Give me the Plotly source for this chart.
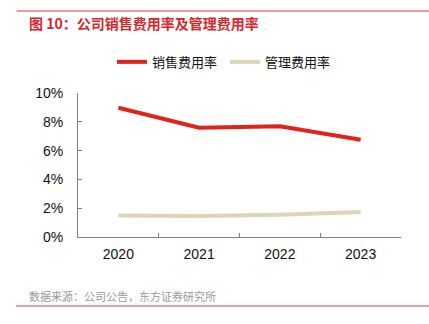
import plotly.graph_objects as go

years = ["2020", "2021", "2022", "2023"]
sales_rate = [0.0898, 0.0759, 0.0769, 0.0676]
admin_rate = [0.0150, 0.0146, 0.0155, 0.0174]
series_names = ["销售费用率", "管理费用率"]
title_text = "图 10：公司销售费用率及管理费用率"
source_text = "数据来源：公司公告，东方证券研究所"

RED = "#E2231A"
BEIGE = "#DED4B9"
AXIS = "#808080"
FONT = "Liberation Sans, Arial, Noto Sans CJK SC, sans-serif"

fig = go.Figure()
fig.add_trace(go.Scatter(x=years, y=sales_rate, name=series_names[0], mode="lines",
                         line=dict(color=RED, width=4)))
fig.add_trace(go.Scatter(x=years, y=admin_rate, name=series_names[1], mode="lines",
                         line=dict(color=BEIGE, width=4)))

fig.update_layout(
    width=429, height=324,
    margin=dict(l=78, r=28, t=93, b=87),
    plot_bgcolor="white", paper_bgcolor="white",
    font=dict(family=FONT, size=13, color="#111111"),
    showlegend=True,
    legend=dict(orientation="h", x=0.105, y=1.32, xanchor="left", yanchor="top",
                font=dict(size=13, color="#111111"),
                entrywidth=68, entrywidthmode="pixels",
                itemwidth=30, bgcolor="rgba(0,0,0,0)"),
    xaxis=dict(type="category", range=[-0.5, 3.5], showline=True, linecolor=AXIS, linewidth=1,
               ticks="inside", tickson="boundaries", ticklen=4, tickcolor=AXIS,
               ticklabelstandoff=4,
               showgrid=False, zeroline=False, tickfont=dict(size=14, color="#111111")),
    yaxis=dict(range=[0, 0.10], dtick=0.02, tickformat=".0%", showline=True, linecolor=AXIS,
               linewidth=1, ticks="inside", ticklen=4, tickcolor=AXIS, showgrid=False,
               ticklabelstandoff=11,
               zeroline=False, tickfont=dict(size=14, color="#111111")),
    shapes=[
        dict(type="line", xref="paper", yref="paper", x0=-0.19, x1=1.09,
             y0=(324 - 87 - 11) / 144, y1=(324 - 87 - 11) / 144,
             line=dict(color="#E03A3A", width=1)),
        dict(type="line", xref="paper", yref="paper", x0=-0.192, x1=1.09,
             y0=(324 - 87 - 306) / 144, y1=(324 - 87 - 306) / 144,
             line=dict(color="#E03A3A", width=1)),
    ],
    annotations=[
        dict(text=title_text, xref="paper", yref="paper", x=-0.158,
             y=(324 - 87 - 23) / 144, xanchor="left", yanchor="middle", showarrow=False,
             font=dict(family="Noto Sans CJK SC, sans-serif", size=14, color="#D9252B",
                       weight="bold")),
        dict(text=source_text, xref="paper", yref="paper", x=-0.158,
             y=(324 - 87 - 296) / 144, xanchor="left", yanchor="middle", showarrow=False,
             font=dict(family="Noto Sans CJK SC, sans-serif", size=11, color="#999999")),
    ],
)

fig.write_html("out.html")
